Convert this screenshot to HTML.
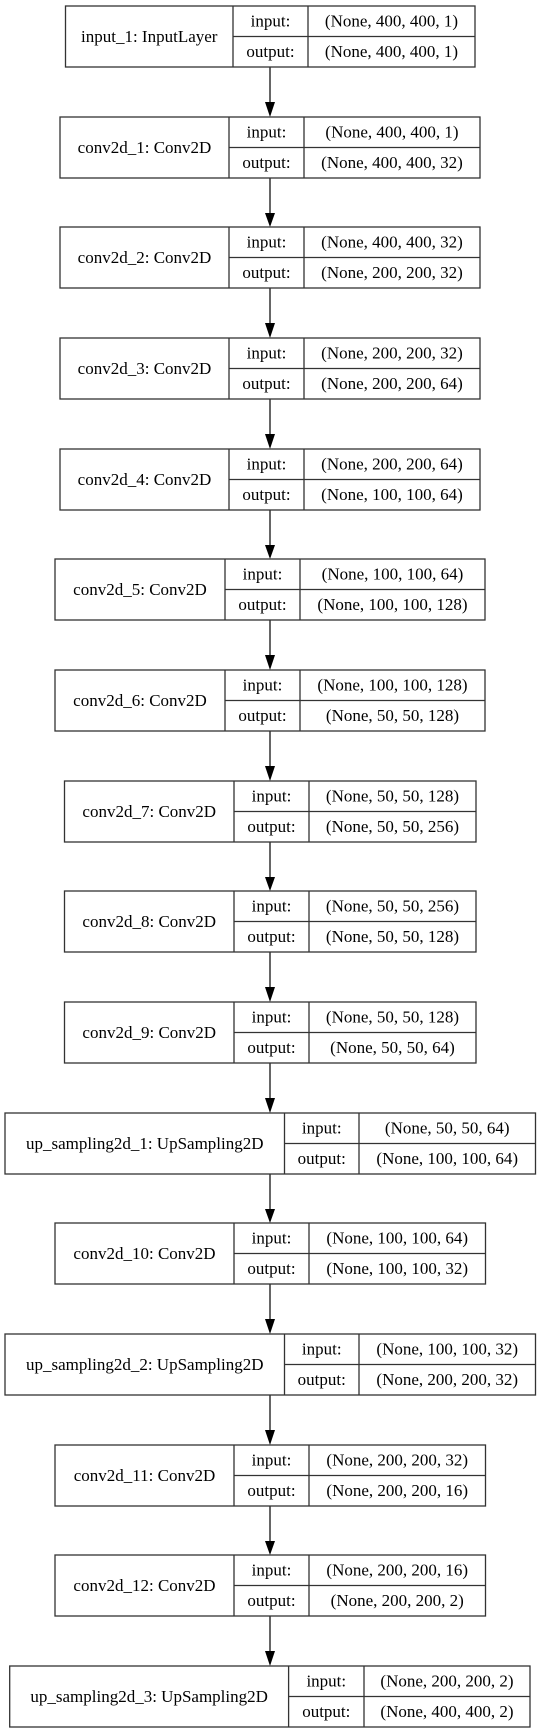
<!DOCTYPE html>
<html><head><meta charset="utf-8"><style>
html,body{margin:0;padding:0;background:#fff;}
svg{display:block;}
text{font-family:"Liberation Serif",serif;font-size:17px;fill:#000;text-anchor:middle;}
.b{fill:none;stroke:#333;stroke-width:1.3;}
.a{stroke:#333;stroke-width:1.5;}
</style></head><body>
<svg width="540" height="1733" viewBox="0 0 540 1733" xmlns="http://www.w3.org/2000/svg">

<g transform="translate(0,6)">
<rect class="b" x="65.5" y="0" width="409.5" height="61"/>
<line class="b" x1="233" y1="0" x2="233" y2="61"/><line class="b" x1="308" y1="0" x2="308" y2="61"/><line class="b" x1="233" y1="30.5" x2="475" y2="30.5"/>
<text x="149.25" y="36">input_1: InputLayer</text><text x="270.5" y="20.5">input:</text><text x="270.5" y="51">output:</text>
<text x="391.5" y="20.5">(None, 400, 400, 1)</text><text x="391.5" y="51">(None, 400, 400, 1)</text>
<line class="a" x1="270" y1="61" x2="270" y2="96"/><polygon points="265,96 275,96 270,111" fill="#000"/>
</g>

<g transform="translate(0,117)">
<rect class="b" x="60" y="0" width="420" height="61"/>
<line class="b" x1="229" y1="0" x2="229" y2="61"/><line class="b" x1="304" y1="0" x2="304" y2="61"/><line class="b" x1="229" y1="30.5" x2="480" y2="30.5"/>
<text x="144.5" y="36">conv2d_1: Conv2D</text><text x="266.5" y="20.5">input:</text><text x="266.5" y="51">output:</text>
<text x="392" y="20.5">(None, 400, 400, 1)</text><text x="392" y="51">(None, 400, 400, 32)</text>
<line class="a" x1="270" y1="61" x2="270" y2="96"/><polygon points="265,96 275,96 270,110" fill="#000"/>
</g>

<g transform="translate(0,227)">
<rect class="b" x="60" y="0" width="420" height="61"/>
<line class="b" x1="229" y1="0" x2="229" y2="61"/><line class="b" x1="304" y1="0" x2="304" y2="61"/><line class="b" x1="229" y1="30.5" x2="480" y2="30.5"/>
<text x="144.5" y="36">conv2d_2: Conv2D</text><text x="266.5" y="20.5">input:</text><text x="266.5" y="51">output:</text>
<text x="392" y="20.5">(None, 400, 400, 32)</text><text x="392" y="51">(None, 200, 200, 32)</text>
<line class="a" x1="270" y1="61" x2="270" y2="96"/><polygon points="265,96 275,96 270,111" fill="#000"/>
</g>

<g transform="translate(0,338)">
<rect class="b" x="60" y="0" width="420" height="61"/>
<line class="b" x1="229" y1="0" x2="229" y2="61"/><line class="b" x1="304" y1="0" x2="304" y2="61"/><line class="b" x1="229" y1="30.5" x2="480" y2="30.5"/>
<text x="144.5" y="36">conv2d_3: Conv2D</text><text x="266.5" y="20.5">input:</text><text x="266.5" y="51">output:</text>
<text x="392" y="20.5">(None, 200, 200, 32)</text><text x="392" y="51">(None, 200, 200, 64)</text>
<line class="a" x1="270" y1="61" x2="270" y2="96"/><polygon points="265,96 275,96 270,111" fill="#000"/>
</g>

<g transform="translate(0,449)">
<rect class="b" x="60" y="0" width="420" height="61"/>
<line class="b" x1="229" y1="0" x2="229" y2="61"/><line class="b" x1="304" y1="0" x2="304" y2="61"/><line class="b" x1="229" y1="30.5" x2="480" y2="30.5"/>
<text x="144.5" y="36">conv2d_4: Conv2D</text><text x="266.5" y="20.5">input:</text><text x="266.5" y="51">output:</text>
<text x="392" y="20.5">(None, 200, 200, 64)</text><text x="392" y="51">(None, 100, 100, 64)</text>
<line class="a" x1="270" y1="61" x2="270" y2="96"/><polygon points="265,96 275,96 270,110" fill="#000"/>
</g>

<g transform="translate(0,559)">
<rect class="b" x="55" y="0" width="430" height="61"/>
<line class="b" x1="225" y1="0" x2="225" y2="61"/><line class="b" x1="300" y1="0" x2="300" y2="61"/><line class="b" x1="225" y1="30.5" x2="485" y2="30.5"/>
<text x="140" y="36">conv2d_5: Conv2D</text><text x="262.5" y="20.5">input:</text><text x="262.5" y="51">output:</text>
<text x="392.5" y="20.5">(None, 100, 100, 64)</text><text x="392.5" y="51">(None, 100, 100, 128)</text>
<line class="a" x1="270" y1="61" x2="270" y2="96"/><polygon points="265,96 275,96 270,111" fill="#000"/>
</g>

<g transform="translate(0,670)">
<rect class="b" x="55" y="0" width="430" height="61"/>
<line class="b" x1="225" y1="0" x2="225" y2="61"/><line class="b" x1="300" y1="0" x2="300" y2="61"/><line class="b" x1="225" y1="30.5" x2="485" y2="30.5"/>
<text x="140" y="36">conv2d_6: Conv2D</text><text x="262.5" y="20.5">input:</text><text x="262.5" y="51">output:</text>
<text x="392.5" y="20.5">(None, 100, 100, 128)</text><text x="392.5" y="51">(None, 50, 50, 128)</text>
<line class="a" x1="270" y1="61" x2="270" y2="96"/><polygon points="265,96 275,96 270,111" fill="#000"/>
</g>

<g transform="translate(0,781)">
<rect class="b" x="64.5" y="0" width="411.5" height="61"/>
<line class="b" x1="234" y1="0" x2="234" y2="61"/><line class="b" x1="309" y1="0" x2="309" y2="61"/><line class="b" x1="234" y1="30.5" x2="476" y2="30.5"/>
<text x="149.25" y="36">conv2d_7: Conv2D</text><text x="271.5" y="20.5">input:</text><text x="271.5" y="51">output:</text>
<text x="392.5" y="20.5">(None, 50, 50, 128)</text><text x="392.5" y="51">(None, 50, 50, 256)</text>
<line class="a" x1="270" y1="61" x2="270" y2="96"/><polygon points="265,96 275,96 270,110" fill="#000"/>
</g>

<g transform="translate(0,891)">
<rect class="b" x="64.5" y="0" width="411.5" height="61"/>
<line class="b" x1="234" y1="0" x2="234" y2="61"/><line class="b" x1="309" y1="0" x2="309" y2="61"/><line class="b" x1="234" y1="30.5" x2="476" y2="30.5"/>
<text x="149.25" y="36">conv2d_8: Conv2D</text><text x="271.5" y="20.5">input:</text><text x="271.5" y="51">output:</text>
<text x="392.5" y="20.5">(None, 50, 50, 256)</text><text x="392.5" y="51">(None, 50, 50, 128)</text>
<line class="a" x1="270" y1="61" x2="270" y2="96"/><polygon points="265,96 275,96 270,111" fill="#000"/>
</g>

<g transform="translate(0,1002)">
<rect class="b" x="64.5" y="0" width="411.5" height="61"/>
<line class="b" x1="234" y1="0" x2="234" y2="61"/><line class="b" x1="309" y1="0" x2="309" y2="61"/><line class="b" x1="234" y1="30.5" x2="476" y2="30.5"/>
<text x="149.25" y="36">conv2d_9: Conv2D</text><text x="271.5" y="20.5">input:</text><text x="271.5" y="51">output:</text>
<text x="392.5" y="20.5">(None, 50, 50, 128)</text><text x="392.5" y="51">(None, 50, 50, 64)</text>
<line class="a" x1="270" y1="61" x2="270" y2="96"/><polygon points="265,96 275,96 270,111" fill="#000"/>
</g>

<g transform="translate(0,1113)">
<rect class="b" x="5" y="0" width="530.5" height="61"/>
<line class="b" x1="284.5" y1="0" x2="284.5" y2="61"/><line class="b" x1="359" y1="0" x2="359" y2="61"/><line class="b" x1="284.5" y1="30.5" x2="535.5" y2="30.5"/>
<text x="144.75" y="36">up_sampling2d_1: UpSampling2D</text><text x="321.75" y="20.5">input:</text><text x="321.75" y="51">output:</text>
<text x="447.25" y="20.5">(None, 50, 50, 64)</text><text x="447.25" y="51">(None, 100, 100, 64)</text>
<line class="a" x1="270" y1="61" x2="270" y2="96"/><polygon points="265,96 275,96 270,110" fill="#000"/>
</g>

<g transform="translate(0,1223)">
<rect class="b" x="55" y="0" width="430.5" height="61"/>
<line class="b" x1="234" y1="0" x2="234" y2="61"/><line class="b" x1="309" y1="0" x2="309" y2="61"/><line class="b" x1="234" y1="30.5" x2="485.5" y2="30.5"/>
<text x="144.5" y="36">conv2d_10: Conv2D</text><text x="271.5" y="20.5">input:</text><text x="271.5" y="51">output:</text>
<text x="397.25" y="20.5">(None, 100, 100, 64)</text><text x="397.25" y="51">(None, 100, 100, 32)</text>
<line class="a" x1="270" y1="61" x2="270" y2="96"/><polygon points="265,96 275,96 270,111" fill="#000"/>
</g>

<g transform="translate(0,1334)">
<rect class="b" x="5" y="0" width="530.5" height="61"/>
<line class="b" x1="284.5" y1="0" x2="284.5" y2="61"/><line class="b" x1="359" y1="0" x2="359" y2="61"/><line class="b" x1="284.5" y1="30.5" x2="535.5" y2="30.5"/>
<text x="144.75" y="36">up_sampling2d_2: UpSampling2D</text><text x="321.75" y="20.5">input:</text><text x="321.75" y="51">output:</text>
<text x="447.25" y="20.5">(None, 100, 100, 32)</text><text x="447.25" y="51">(None, 200, 200, 32)</text>
<line class="a" x1="270" y1="61" x2="270" y2="96"/><polygon points="265,96 275,96 270,111" fill="#000"/>
</g>

<g transform="translate(0,1445)">
<rect class="b" x="55" y="0" width="430.5" height="61"/>
<line class="b" x1="234" y1="0" x2="234" y2="61"/><line class="b" x1="309" y1="0" x2="309" y2="61"/><line class="b" x1="234" y1="30.5" x2="485.5" y2="30.5"/>
<text x="144.5" y="36">conv2d_11: Conv2D</text><text x="271.5" y="20.5">input:</text><text x="271.5" y="51">output:</text>
<text x="397.25" y="20.5">(None, 200, 200, 32)</text><text x="397.25" y="51">(None, 200, 200, 16)</text>
<line class="a" x1="270" y1="61" x2="270" y2="96"/><polygon points="265,96 275,96 270,110" fill="#000"/>
</g>

<g transform="translate(0,1555)">
<rect class="b" x="55" y="0" width="430.5" height="61"/>
<line class="b" x1="234" y1="0" x2="234" y2="61"/><line class="b" x1="309" y1="0" x2="309" y2="61"/><line class="b" x1="234" y1="30.5" x2="485.5" y2="30.5"/>
<text x="144.5" y="36">conv2d_12: Conv2D</text><text x="271.5" y="20.5">input:</text><text x="271.5" y="51">output:</text>
<text x="397.25" y="20.5">(None, 200, 200, 16)</text><text x="397.25" y="51">(None, 200, 200, 2)</text>
<line class="a" x1="270" y1="61" x2="270" y2="96"/><polygon points="265,96 275,96 270,111" fill="#000"/>
</g>

<g transform="translate(0,1666)">
<rect class="b" x="9.7" y="0" width="520.3" height="61"/>
<line class="b" x1="288.6" y1="0" x2="288.6" y2="61"/><line class="b" x1="364" y1="0" x2="364" y2="61"/><line class="b" x1="288.6" y1="30.5" x2="530" y2="30.5"/>
<text x="149.15" y="36">up_sampling2d_3: UpSampling2D</text><text x="326.3" y="20.5">input:</text><text x="326.3" y="51">output:</text>
<text x="447" y="20.5">(None, 200, 200, 2)</text><text x="447" y="51">(None, 400, 400, 2)</text>
</g>

</svg>
</body></html>
